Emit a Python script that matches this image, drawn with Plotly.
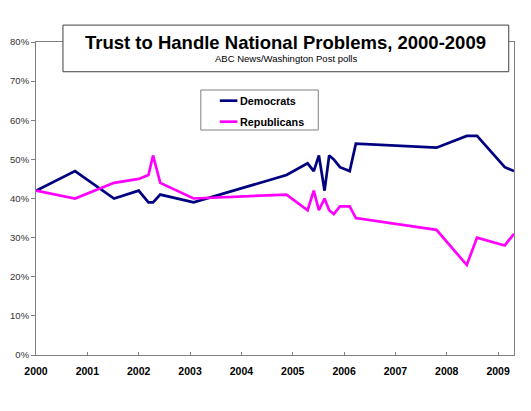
import plotly.graph_objects as go

# poll dates (decimal years) and shares
poll_dates = [2000.0, 2000.76, 2001.52, 2002.0, 2002.19, 2002.28, 2002.42, 2003.07,
              2004.88, 2005.29, 2005.41, 2005.51, 2005.62, 2005.71, 2005.80, 2005.92,
              2006.11, 2006.23, 2007.80, 2008.39, 2008.59, 2009.13, 2009.31]
democrats = [42, 47, 40, 42, 39, 39, 41, 39,
             46, 49, 47, 51, 42, 51, 50, 48,
             47, 54, 53, 56, 56, 48, 47]
republicans = [42, 40, 44, 45, 46, 51, 44, 40,
               41, 37, 42, 37, 40, 37, 36, 38,
               38, 35, 32, 23, 30, 28, 31]

year_ticks = list(range(2000, 2010))
pct_ticks = list(range(0, 90, 10))
pct_labels = [f'{p}%' for p in pct_ticks]

series = [('Democrats', democrats, '#000080'),
          ('Republicans', republicans, '#FF00FF')]

FONT = 'Liberation Sans, Arial, sans-serif'

fig = go.Figure()

for name, values, color in series:
    fig.add_trace(go.Scatter(
        x=poll_dates, y=values, name=name, mode='lines',
        line=dict(color=color, width=2.7), showlegend=False
    ))

# title box
fig.add_shape(type='rect', xref='paper', yref='paper',
              x0=0.0564, x1=0.989, y0=0.905, y1=1.054,
              line=dict(color='#404040', width=1), fillcolor='white', layer='above')
fig.add_annotation(text='<b>Trust to Handle National Problems, 2000-2009</b>',
                   xref='paper', yref='paper', x=0.523, y=0.997,
                   xanchor='center', yanchor='middle',
                   showarrow=False, font=dict(family=FONT, size=18.5, color='black'))
fig.add_annotation(text='ABC News/Washington Post polls',
                   xref='paper', yref='paper', x=0.523, y=0.946,
                   xanchor='center', yanchor='middle',
                   showarrow=False, font=dict(family=FONT, size=9.5, color='black'))

# legend box, drawn by hand to match the original spacing
fig.add_shape(type='rect', xref='paper', yref='paper',
              x0=0.3448, x1=0.5905, y0=0.7188, y1=0.8466,
              line=dict(color='#808080', width=1), fillcolor='white', layer='above')
for i, (name, values, color) in enumerate(series):
    ly = 0.8125 - i * 0.0671
    fig.add_shape(type='line', xref='paper', yref='paper',
                  x0=0.3845, x1=0.4213, y0=ly, y1=ly,
                  line=dict(color=color, width=2.7), layer='above')
    fig.add_annotation(text=f'<b>{name}</b>', xref='paper', yref='paper',
                       x=0.4235, y=ly, xanchor='left', yanchor='middle',
                       showarrow=False,
                       font=dict(family=FONT, size=10.8, color='black'))

fig.update_layout(
    width=523, height=403,
    margin=dict(l=28, r=17, t=34, b=56),
    paper_bgcolor='white', plot_bgcolor='white',
    font=dict(family=FONT),
    showlegend=False,
    xaxis=dict(
        range=[2000, 2009.31], tickvals=year_ticks,
        ticktext=[f'<b>{y}</b>' for y in year_ticks],
        showgrid=False, zeroline=False, automargin=False,
        showline=True, linecolor='#808080', linewidth=1, mirror=True,
        ticks='inside', ticklen=3, tickcolor='#808080',
        ticklabelstandoff=6,
        tickfont=dict(family=FONT, size=10.5, color='black')
    ),
    yaxis=dict(
        range=[0, 80], tickvals=pct_ticks, ticktext=pct_labels,
        showgrid=False, zeroline=False, automargin=False,
        showline=True, linecolor='#808080', linewidth=1, mirror=True,
        ticks='outside', ticklen=4, tickcolor='#808080',
        tickfont=dict(family=FONT, size=9.5, color='#333333')
    )
)

fig.write_html("out.html")
